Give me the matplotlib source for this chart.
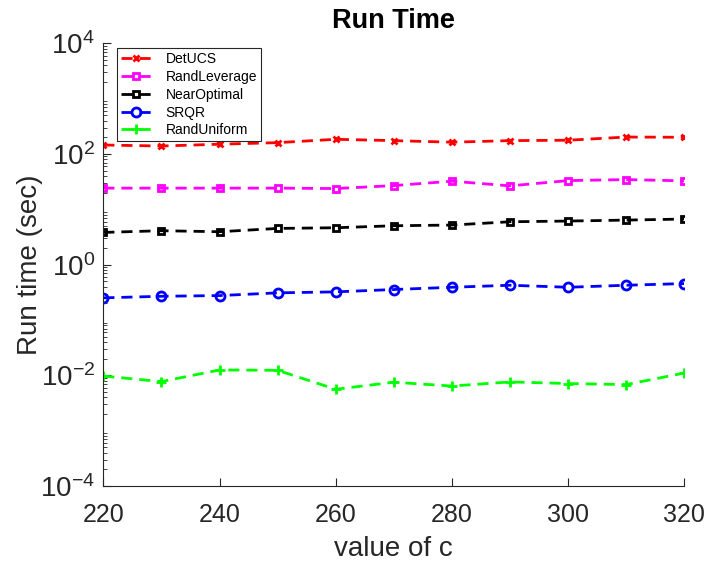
import matplotlib
matplotlib.use('Agg')
import matplotlib.pyplot as plt
from matplotlib.ticker import LogLocator, NullFormatter, FixedLocator

# data
c_values = [220, 230, 240, 250, 260, 270, 280, 290, 300, 310, 320]
det_ucs = [145, 139, 150, 160, 184, 174, 163, 174, 177, 202, 200]
rand_leverage = [24.1, 24.1, 24.1, 24.1, 23.7, 26.8, 32.2, 26.5, 33.0, 34.4, 32.6]
near_optimal = [3.82, 4.10, 3.93, 4.51, 4.64, 5.04, 5.19, 5.95, 6.13, 6.38, 6.66]
srqr = [0.251, 0.268, 0.276, 0.309, 0.322, 0.355, 0.390, 0.424, 0.390, 0.424, 0.455]
rand_uniform = [0.0097, 0.0077, 0.0125, 0.0123, 0.0056, 0.0075, 0.0064, 0.0076, 0.0071, 0.0068, 0.0110]
y_ticks = [1e-4, 1e-2, 1e0, 1e2, 1e4]
x_ticks = [220, 240, 260, 280, 300, 320]

plt.rcParams['font.family'] = ['Liberation Sans', 'DejaVu Sans']
plt.rcParams['mathtext.fontset'] = 'custom'
plt.rcParams['mathtext.rm'] = 'Liberation Sans'
plt.rcParams['mathtext.it'] = 'Liberation Sans'
plt.rcParams['mathtext.default'] = 'regular'

fig = plt.figure(figsize=(7.09, 5.64), dpi=100)
ax = fig.add_axes([0.1457, 0.1383, 0.8195, 0.785])

dash = (4, 2.5)
ax.plot(c_values, det_ucs, color='#ff0000', ls='--', dashes=dash, lw=2,
        marker='x', ms=5, mew=2, label='DetUCS')
ax.plot(c_values, rand_leverage, color='#ff00ff', ls='--', dashes=dash, lw=2,
        marker='s', ms=5, mew=2, mfc='none', label='RandLeverage')
ax.plot(c_values, near_optimal, color='black', ls='--', dashes=dash, lw=2,
        marker='s', ms=5, mew=2, mfc='none', label='NearOptimal')
ax.plot(c_values, srqr, color='#0000ff', ls='--', dashes=dash, lw=2,
        marker='o', ms=6.5, mew=2, mfc='none', label='SRQR')
ax.plot(c_values, rand_uniform, color='#00ff00', ls='--', dashes=dash, lw=2,
        marker='+', ms=7, mew=2, label='RandUniform')

ax.set_yscale('log')
ax.set_ylim(1e-4, 1e4)
ax.set_xlim(220, 320)
ax.xaxis.set_major_locator(FixedLocator(x_ticks))
ax.yaxis.set_major_locator(FixedLocator(y_ticks))
ax.yaxis.set_minor_locator(LogLocator(base=10, subs=range(2, 10), numticks=20))
ax.yaxis.set_minor_formatter(NullFormatter())

ax.spines['top'].set_visible(False)
ax.spines['right'].set_visible(False)
for s in ['left', 'bottom']:
    ax.spines[s].set_linewidth(0.8)
    ax.spines[s].set_color('#262626')
ax.tick_params(which='both', direction='in', colors='#262626')
ax.tick_params(which='major', length=6)
ax.tick_params(which='minor', length=3)
ax.tick_params(axis='x', labelsize=18, pad=12)
ax.tick_params(axis='y', labelsize=20, pad=6)

ax.set_xlabel('value of c', fontsize=20, color='#262626')
ax.xaxis.set_label_coords(0.5, -0.112)
ax.set_ylabel('Run time (sec)', fontsize=20, color='#262626')
ax.yaxis.set_label_coords(-0.104, 0.5)
ax.set_title('Run Time', fontsize=19.5, fontweight='bold', pad=11)

leg = ax.legend(loc='upper left', bbox_to_anchor=(0.0236, 0.989), borderaxespad=0,
                fontsize=10, frameon=True, fancybox=False, edgecolor='#262626',
                framealpha=1, handlelength=2.2, borderpad=0.3, labelspacing=0.27,
                handletextpad=1.0, numpoints=1)
leg.get_frame().set_linewidth(0.8)

fig.savefig('out.png', dpi=100)
